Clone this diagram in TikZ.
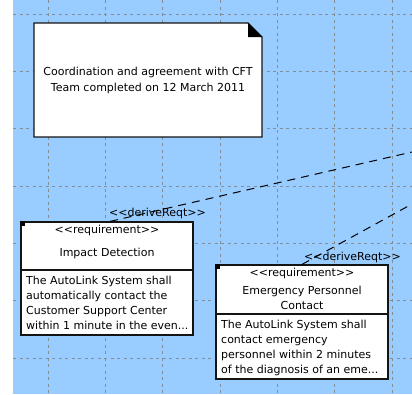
\documentclass[tikz,border=0pt]{standalone}
\usepackage{fontspec}
\setmainfont{DejaVu Sans}
\definecolor{canvas}{RGB}{153,204,255}
\definecolor{gridgray}{RGB}{132,140,150}
\definecolor{edge}{RGB}{20,20,20}
\tikzset{
  gridline/.style={draw=gridgray, line width=0.9pt, dash pattern=on 3pt off 3.5pt},
  notebox/.style={fill=white, draw=edge, line width=1.2pt},
  reqbox/.style={fill=white, draw=edge, line width=1.2pt},
  label/.style={inner sep=0pt, font=\fontsize{11}{15}\selectfont},
  bodytext/.style={label, align=left, anchor=north west},
  derive/.style={draw=black, line width=1pt, dash pattern=on 8pt off 6pt},
}
\begin{document}
\begin{tikzpicture}[x=1pt,y=-1pt]
\useasboundingbox (0,0) rectangle (412,394);
% canvas and dotted layout grid
\fill[canvas] (13,0) rectangle (412,394);
\foreach \i in {0,...,6}{
  \draw[gridline] ({48+57.33*\i},0) -- ({48+57.33*\i},394);
  \draw[gridline] (13,{14+57.33*\i}) -- (412,{14+57.33*\i});
}
% comment note with folded corner
\draw[notebox] (34,23) -- (248,23) -- (262,37) -- (262,137) -- (34,137) -- cycle;
\fill[black] (248,23) -- (262,37) -- (248,37) -- cycle;
\node[label, align=center] (note) at (148,80)
  {Coordination and agreement with CFT\\[1pt]Team completed on 12 March 2011};

% requirement: Impact Detection
\node[reqbox, minimum width=172pt, minimum height=113pt, inner sep=0pt] (box1) at (107,278.5) {};
\fill[black] (box1.north west) rectangle ++(5,5);
\draw[edge, line width=1.2pt] (21,270) -- (193,270);
\node[label] (st1) at (107,230) {{<}{<}requirement{>}{>}};
\node[label] (name1) at (107,253) {Impact Detection};
\node[bodytext] (body1) at (26,275.5) {The AutoLink System shall\\automatically contact the\\Customer Support Center\\within 1 minute in the even...};

% requirement: Emergency Personnel Contact
\node[reqbox, minimum width=172pt, minimum height=114pt, inner sep=0pt] (box2) at (302,322) {};
\fill[black] (box2.north west) rectangle ++(5,5);
\draw[edge, line width=1.2pt] (216,314) -- (388,314);
\node[label] (st2) at (302,273) {{<}{<}requirement{>}{>}};
\node[label, align=center] (name2) at (302,297.5) {Emergency Personnel\\Contact};
\node[bodytext] (body2) at (221,319.5) {The AutoLink System shall\\contact emergency\\personnel within 2 minutes\\of the diagnosis of an eme...};

% deriveReqt labels and their dependency lines
\node[label] (dl1) at (157.5,213) {{<}{<}deriveReqt{>}{>}};
\node[label] (dl2) at (352.5,257) {{<}{<}deriveReqt{>}{>}};
\coordinate (e1) at (412,152);
\coordinate (e2) at (412,204);
\draw[derive] ([xshift=3pt]box1.north) -- (e1);
\draw[derive] (box2.north) -- (e2);
\end{tikzpicture}
\end{document}
